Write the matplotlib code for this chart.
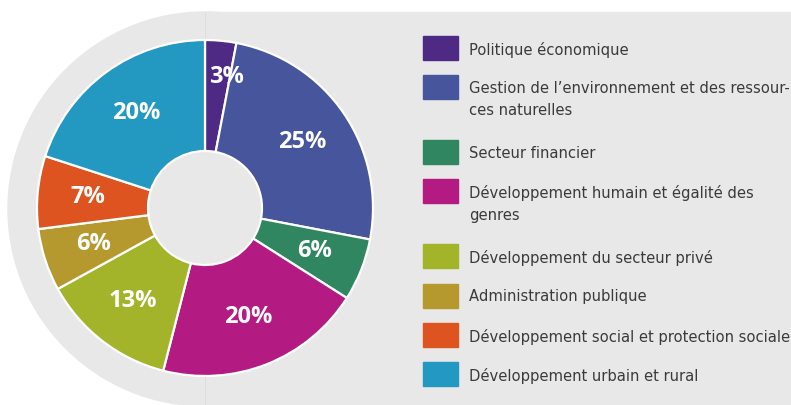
import numpy as np
import matplotlib
matplotlib.use('Agg')
import matplotlib.pyplot as plt
from matplotlib.patches import Circle, Rectangle

# data
categories = [
    "Politique économique",
    "Gestion de l’environnement et des ressour-\nces naturelles",
    "Secteur financier",
    "Développement humain et égalité des\ngenres",
    "Développement du secteur privé",
    "Administration publique",
    "Développement social et protection sociale",
    "Développement urbain et rural",
]
shares = [3, 25, 6, 20, 13, 6, 7, 20]

colors = ['#4e2a84', '#46559c', '#2f8661', '#b31a82',
          '#a3b42b', '#b5992f', '#de5420', '#2398c0']
bg = '#e8e8e8'
txt_col = '#3a3a3a'

W, H = 791, 405
fig = plt.figure(figsize=(W / 100, H / 100), dpi=100)
ax = fig.add_axes([0, 0, 1, 1])

cx, cy = 205, H - 208
R = 168

# grey backdrop: disc on the left merging into a box
ax.add_patch(Circle((cx, H - 209), 197, color=bg, zorder=0))
ax.add_patch(Rectangle((cx, -5), W, H - 12 + 5, color=bg, zorder=0))
ax.plot([cx, cx], [cy + R, H - 12], color='#dcdcdc', lw=0.6, zorder=0.5)
ax.plot([cx, cx], [-5, cy - R], color='#dcdcdc', lw=0.6, zorder=0.5)

wedges, texts, autotexts = ax.pie(
    shares, colors=colors, startangle=90, counterclock=False,
    center=(cx, cy), radius=R,
    wedgeprops=dict(width=R - 57, edgecolor='white', linewidth=1.6),
    autopct=lambda p: f'{p:.0f}%', pctdistance=0.70,
    textprops=dict(color='white', fontsize=17, fontweight='bold',
                   family=['Open Sans', 'DejaVu Sans']))

# small first slice: label pushed outward a bit like the original
x0, y0 = autotexts[0].get_position()
autotexts[0].set_position((cx + (x0 - cx) * 1.12 + 9, cy + (y0 - cy) * 1.12))

# legend drawn by hand
lx, top = 423, 36
for lab, col in zip(categories, colors):
    ax.add_patch(Rectangle((lx, H - top - 24), 35, 24, color=col, zorder=2))
    ax.text(lx + 46, H - top - 6, lab, fontsize=11.8, color=txt_col,
            va='top', ha='left', linespacing=1.55,
            family='DejaVu Sans', fontstretch='condensed')
    top += 39.3 + 25.5 * lab.count('\n')

ax.set_xlim(0, W)
ax.set_ylim(0, H)
ax.set_aspect('equal')
ax.axis('off')

fig.savefig('out.png', dpi=100, facecolor='white')
